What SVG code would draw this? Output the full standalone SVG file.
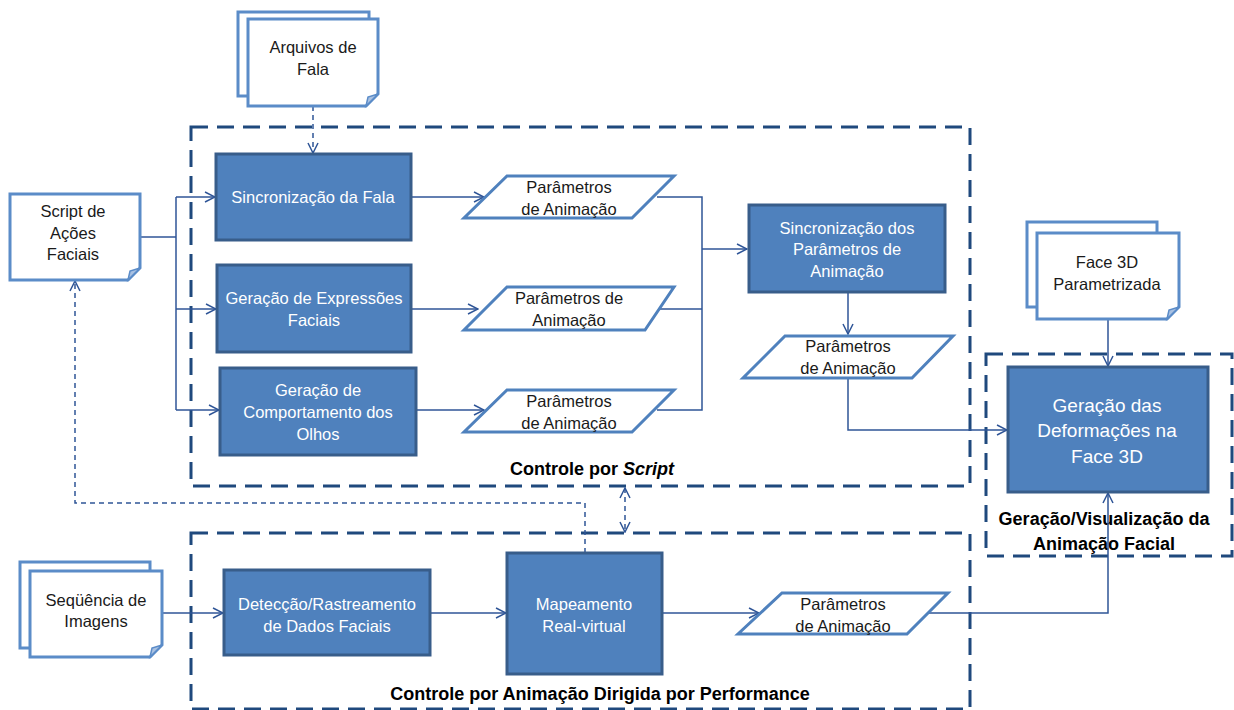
<svg xmlns="http://www.w3.org/2000/svg" width="1234" height="710" viewBox="0 0 1234 710">
<defs>
<marker id="arr" viewBox="0 0 12 12" refX="11" refY="6" markerWidth="12" markerHeight="12" markerUnits="userSpaceOnUse" orient="auto-start-reverse">
<path d="M1,1 L11,6 L1,11" fill="none" stroke="#2F5597" stroke-width="1.5"/>
</marker>
</defs>
<style>
text{font-family:"Liberation Sans",Arial,sans-serif;font-size:16.5px;text-anchor:middle;fill:#1a1a1a}
.w{fill:#fff}
.big{font-size:19px}
.lbl{font-weight:bold;font-size:18px;fill:#000}
.box{fill:#4F81BD;stroke:#385D8A;stroke-width:3}
.doc{fill:#fff;stroke:#5B8CC8;stroke-width:3}
.fold{fill:#A9C1E2;stroke:#5B8CC8;stroke-width:1.5}
.para{fill:#fff;stroke:#4F81BD;stroke-width:3}
.grp{fill:none;stroke:#1F497D;stroke-width:3;stroke-dasharray:17 9}
.c{fill:none;stroke:#2F5597;stroke-width:1.5}
.d{fill:none;stroke:#2F5597;stroke-width:1.5;stroke-dasharray:5 4}
</style>

<g id="containers">
<rect class="grp" x="191" y="127" width="779" height="359"/>
<rect class="grp" x="191" y="533" width="779" height="176"/>
<rect class="grp" x="986" y="354" width="246" height="202"/>
<text class="lbl" x="592" y="475">Controle por <tspan font-style="italic">Script</tspan></text>
<text class="lbl" x="600" y="700">Controle por Animação Dirigida por Performance</text>
<text class="lbl" x="1104" y="525">Geração/Visualização da</text>
<text class="lbl" x="1104" y="550">Animação Facial</text>
</g>

<g id="connectors">
<path class="d" d="M313,106 V153" marker-end="url(#arr)"/>
<path class="c" d="M140,237 H176"/>
<path class="c" d="M176,197 V410"/>
<path class="c" d="M176,197 H215" marker-end="url(#arr)"/>
<path class="c" d="M176,309 H216" marker-end="url(#arr)"/>
<path class="c" d="M176,410 H219" marker-end="url(#arr)"/>
<path class="c" d="M411,197 H484" marker-end="url(#arr)"/>
<path class="c" d="M411,309 H478" marker-end="url(#arr)"/>
<path class="c" d="M416,410 H484" marker-end="url(#arr)"/>
<path class="c" d="M657,197 H702 V410 H657"/>
<path class="c" d="M660,309 H702"/>
<path class="c" d="M702,249 H747" marker-end="url(#arr)"/>
<path class="c" d="M848,292 V334" marker-end="url(#arr)"/>
<path class="c" d="M848,378 V430 H1007" marker-end="url(#arr)"/>
<path class="c" d="M1108,319 V366" marker-end="url(#arr)"/>
<path class="c" d="M162,613 H223" marker-end="url(#arr)"/>
<path class="c" d="M430,613 H506" marker-end="url(#arr)"/>
<path class="c" d="M662,613 H759" marker-end="url(#arr)"/>
<path class="c" d="M928,613 H1108 V493" marker-end="url(#arr)"/>
<path class="d" d="M585,553 V503 H75 V281" marker-end="url(#arr)"/>
<path class="d" d="M625,488 V532" marker-start="url(#arr)" marker-end="url(#arr)"/>
</g>

<g id="arquivos">
<rect class="doc" x="238" y="12" width="131" height="84"/>
<path class="doc" d="M248,19 H378 V94 L366,106 H248 Z"/>
<path class="fold" d="M366,106 L368,97 L378,94 Z"/>
<text x="313" y="53">Arquivos de</text>
<text x="313" y="75">Fala</text>
</g>

<g id="script">
<path class="doc" d="M10,194 H140 V268 L128,280 H10 Z"/>
<path class="fold" d="M128,280 L130,271 L140,268 Z"/>
<text x="73" y="217">Script de</text>
<text x="73" y="239">Ações</text>
<text x="73" y="260">Faciais</text>
</g>

<g id="sincFala">
<rect class="box" x="216" y="154" width="195" height="86"/>
<text class="w" x="313" y="203">Sincronização da Fala</text>
</g>

<g id="geracaoExpr">
<rect class="box" x="217" y="265" width="194" height="87"/>
<text class="w" x="314" y="304">Geração de Expressões</text>
<text class="w" x="314" y="326">Faciais</text>
</g>

<g id="geracaoOlhos">
<rect class="box" x="220" y="368" width="196" height="87"/>
<text class="w" x="318" y="396">Geração de</text>
<text class="w" x="318" y="418">Comportamento dos</text>
<text class="w" x="318" y="440">Olhos</text>
</g>

<g id="param1">
<path class="para" d="M507,176 H674 L632,218 H464 Z"/>
<text x="569" y="193">Parâmetros</text>
<text x="569" y="215">de Animação</text>
</g>

<g id="param2">
<path class="para" d="M507,287 H674 L645,330 H464 Z"/>
<text x="569" y="304">Parâmetros de</text>
<text x="569" y="326">Animação</text>
</g>

<g id="param3">
<path class="para" d="M507,390 H674 L632,432 H464 Z"/>
<text x="569" y="407">Parâmetros</text>
<text x="569" y="429">de Animação</text>
</g>

<g id="sincParam">
<rect class="box" x="749" y="205" width="196" height="87"/>
<text class="w" x="847" y="234">Sincronização dos</text>
<text class="w" x="847" y="255">Parâmetros de</text>
<text class="w" x="847" y="277">Animação</text>
</g>

<g id="param4">
<path class="para" d="M785,336 H953 L912,378 H743 Z"/>
<text x="848" y="352">Parâmetros</text>
<text x="848" y="374">de Animação</text>
</g>

<g id="face3d">
<rect class="doc" x="1027" y="222" width="130" height="85"/>
<path class="doc" d="M1037,233 H1179 V307 L1167,319 H1037 Z"/>
<path class="fold" d="M1167,319 L1169,310 L1179,307 Z"/>
<text x="1107" y="268">Face 3D</text>
<text x="1107" y="290">Parametrizada</text>
</g>

<g id="deformacoes">
<rect class="box" x="1008" y="367" width="200" height="125"/>
<text class="w big" x="1107" y="412">Geração das</text>
<text class="w big" x="1107" y="437">Deformações na</text>
<text class="w big" x="1107" y="463">Face 3D</text>
</g>

<g id="sequencia">
<rect class="doc" x="20" y="562" width="130" height="86"/>
<path class="doc" d="M30,571 H162 V645 L150,657 H30 Z"/>
<path class="fold" d="M150,657 L152,648 L162,645 Z"/>
<text x="96" y="606">Seqüência de</text>
<text x="96" y="627">Imagens</text>
</g>

<g id="deteccao">
<rect class="box" x="224" y="570" width="206" height="85"/>
<text class="w" x="327" y="610">Detecção/Rastreamento</text>
<text class="w" x="327" y="632">de Dados Faciais</text>
</g>

<g id="mapeamento">
<rect class="box" x="507" y="553" width="155" height="121"/>
<text class="w" x="584" y="610">Mapeamento</text>
<text class="w" x="584" y="632">Real-virtual</text>
</g>

<g id="param5">
<path class="para" d="M782,593 H948 L907,634 H738 Z"/>
<text x="843" y="610">Parâmetros</text>
<text x="843" y="632">de Animação</text>
</g>
</svg>
